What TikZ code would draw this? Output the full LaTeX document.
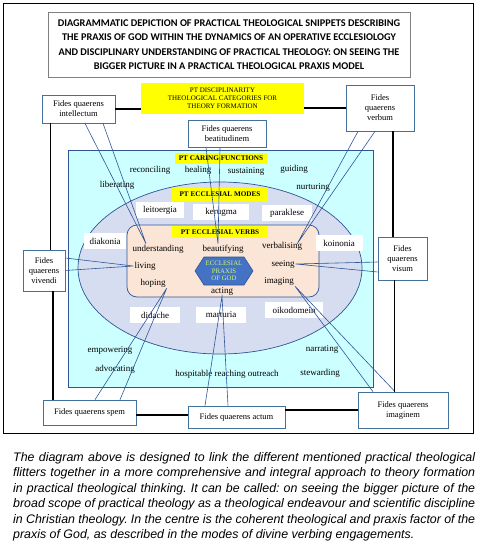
\documentclass[tikz,border=0pt]{standalone}
\usepackage{fontspec}
\setmainfont{Liberation Serif}
\newfontfamily\titlefont{Carlito}
\newfontfamily\notefont{Liberation Sans}
\usetikzlibrary{positioning,calc}
\definecolor{FrameBlue}{RGB}{65,113,156}
\definecolor{PtrBlue}  {RGB}{47,85,151}
\definecolor{SkyCyan}  {RGB}{204,255,255}
\definecolor{Lavender} {RGB}{214,221,240}
\definecolor{Peach}    {RGB}{251,229,214}
\definecolor{TagYellow}{RGB}{255,255,0}
\definecolor{HexBlue}  {RGB}{68,114,196}
\definecolor{HexText}  {RGB}{204,255,102}
\newcommand{\wordsize}{\fontsize{9}{10.5}\selectfont}

\begin{document}
\begin{tikzpicture}[x=1pt, y=-1pt,
  fides/.style={rectangle, draw=FrameBlue, fill=white, line width=0.7pt,
                align=center, inner sep=1pt, font=\fontsize{8.5}{10}\selectfont},
  tag/.style  ={rectangle, fill=TagYellow, inner sep=0pt, align=center,
                font=\fontsize{7.2}{8}\selectfont\bfseries},
  mode/.style ={rectangle, fill=white, inner sep=0pt, minimum height=16pt,
                font=\wordsize},
  word/.style ={inner sep=1pt, font=\wordsize},
  ptr/.style  ={draw=PtrBlue, line width=0.6pt},
  link/.style ={line width=1.8pt, black}
]
\useasboundingbox (0,0) rectangle (480,546);

% outer frame and heading
\draw[line width=1pt] (3,3) rectangle (473,433);
\node[draw=gray, line width=0.8pt, minimum width=362pt, minimum height=65pt,
      align=center, font=\titlefont\bfseries\fontsize{10.3}{14.4}\selectfont] (title) at (229,44.5)
  {DIAGRAMMATIC DEPICTION OF PRACTICAL THEOLOGICAL SNIPPETS DESCRIBING\\
   THE PRAXIS OF GOD WITHIN THE DYNAMICS OF AN OPERATIVE ECCLESIOLOGY\\
   AND DISCIPLINARY UNDERSTANDING OF PRACTICAL THEOLOGY: ON SEEING THE\\
   BIGGER PICTURE IN A PRACTICAL THEOLOGICAL PRAXIS MODEL};

% nested fields
\filldraw[fill=SkyCyan, draw=PtrBlue, line width=0.6pt] (68,150) rectangle (373,387);
\filldraw[fill=Lavender, draw=PtrBlue, line width=0.7pt] (220,268) ellipse [x radius=142, y radius=86];
\filldraw[fill=Peach, draw=PtrBlue, line width=0.7pt, rounded corners=10pt] (127,225) rectangle (319,297);

\node[tag, fill=TagYellow, minimum width=163pt, minimum height=31pt,
      font=\fontsize{7}{8}\selectfont] (disc) at (222.5,98.5)
  {PT DISCIPLINARITY\\THEOLOGICAL CATEGORIES FOR\\THEORY FORMATION};
\node[tag, minimum width=92pt, minimum height=11pt] (caring) at (221,158.5) {PT CARING FUNCTIONS};
\node[tag, minimum width=96pt, minimum height=13pt] (modes)  at (220,194.5) {PT ECCLESIAL MODES};
\node[tag, minimum width=96pt, minimum height=12pt] (verbs)  at (220,232)   {PT ECCLESIAL VERBS};

% ecclesial modes
\foreach \m/\x/\y/\w in {leitoergia/160/210/48, kerugma/221/212/56, paraklese/287/213/50,
                         diakonia/105/241/42, koinonia/339/243/47, didache/155/315/50,
                         marturia/221/315/50, oikodomein/294/310/58}
  \node[mode, minimum width=\w pt] (\m) at (\x,\y) {\m};

% caring functions
\foreach \w/\x/\y in {reconciling/150/170, healing/198/170, sustaining/246/171,
                      guiding/294/169, nurturing/313/187, liberating/117/185,
                      empowering/110/350, advocating/115/369, narrating/322/349,
                      stewarding/320/373}
  \node[word] (\w) at (\x,\y) {\w};
\node[word] (outreach) at (227,374) {hospitable reaching outreach};

% ecclesial verbs
\foreach \v/\x/\y in {understanding/158/249, beautifying/223/249, verbalising/282/246,
                      living/145/266, seeing/283/264, hoping/153/283,
                      imaging/279/281, acting/222/291}
  \node[word] (\v) at (\x,\y) {\v};

\filldraw[fill=HexBlue, draw=PtrBlue, line width=0.6pt]
  (195,271) -- (204,257) -- (244,257) -- (253,271) -- (244,285) -- (204,285) -- cycle;
\node[align=center, inner sep=0pt, text=HexText, font=\fontsize{6.8}{7.6}\selectfont] (praxis) at (224,271)
  {ECCLESIAL\\PRAXIS\\OF GOD};

% fides boxes
\node[fides, minimum width=73pt, minimum height=28pt] (intellectum)  at (78.5,109)  {Fides quaerens\\intellectum};
\node[fides, minimum width=68pt, minimum height=46pt] (verbum)       at (380,108)   {Fides\\quaerens\\verbum};
\node[fides, minimum width=78pt, minimum height=27pt] (beatitudinem) at (227,133.5) {Fides quaerens\\beatitudinem};
\node[fides, minimum width=42pt, minimum height=41pt] (vivendi)      at (44,270.5)  {Fides\\quaerens\\vivendi};
\node[fides, minimum width=49pt, minimum height=43pt] (visum)        at (402.5,258.5) {Fides\\quaerens\\visum};
\node[fides, minimum width=93pt, minimum height=25pt] (spem)         at (89.5,412.5) {Fides quaerens spem};
\node[fides, minimum width=97pt, minimum height=22pt] (actum)        at (236.5,417) {Fides quaerens actum};
\node[fides, minimum width=90pt, minimum height=36pt] (imaginem)     at (403,410)   {Fides quaerens\\imaginem};

% callout pointers
\draw[ptr] ([xshift=6.5pt]intellectum.south) -- ([xshift=-12pt]understanding.north) -- ([xshift=24.5pt]intellectum.south);
\draw[ptr] ([xshift=-22pt]verbum.south) -- ([xshift=-6pt,yshift=-3pt]verbalising.north east) -- ([xshift=-5pt]verbum.south);
\draw[ptr] ([xshift=-21pt]beatitudinem.south) -- ([xshift=-5pt]beautifying.north) -- ([xshift=-7pt]beatitudinem.south);
\draw[ptr] ([yshift=12.5pt]vivendi.east) -- (living.west) -- (vivendi.east);
\draw[ptr] ([yshift=-3.5pt]visum.west) -- (seeing.east) -- ([yshift=-13.5pt]visum.west);
\draw[ptr] ([xshift=5.5pt]spem.north) -- (hoping.south east) -- ([xshift=30.5pt]spem.north);
\draw[ptr] ([xshift=-31.5pt]actum.north) -- (acting.south) -- ([xshift=-8.5pt]actum.north);
\draw[ptr] ([xshift=-30pt]imaginem.north) -- (imaging.south east) -- ([xshift=-8pt]imaginem.north);

% black frame links
\draw[link] (intellectum.east) -- (intellectum.east -| disc.west);
\draw[link] (verbum.west -| disc.east) -- (verbum.west);
\draw[link] ([xshift=13pt]verbum.south) -- ([xshift=13pt]verbum.south |- visum.north);
\draw[link] ([xshift=-8pt]visum.south) -- ([xshift=-8pt]visum.south |- imaginem.north);
\draw[link] ([xshift=-28pt]intellectum.south) -- ([xshift=-28pt]intellectum.south |- vivendi.north);
\draw[link] ([xshift=9pt]vivendi.south) -- ([xshift=9pt]vivendi.south |- spem.north);
\draw[link] ([yshift=-2.5pt]spem.east) -- ([yshift=-2.5pt]spem.east -| actum.west);
\draw[link] (imaginem.west -| actum.east) -- (imaginem.west);

% caption
\node[anchor=north west, text width=462pt, align=justify, inner sep=0pt,
      font=\notefont\itshape\fontsize{12.4}{15.5}\selectfont\frenchspacing] (note) at (13,452)
  {The diagram above is designed to link the different mentioned practical theological\linebreak
   flitters together in a more comprehensive and integral approach to theory formation\linebreak
   in practical theological thinking. It can be called: on seeing the bigger picture of the\linebreak
   broad scope of practical theology as a theological endeavour and scientific discipline\linebreak
   in Christian theology. In the centre is the coherent theological and praxis factor of the\linebreak
   praxis of God, as described in the modes of divine verbing engagements.};
\end{tikzpicture}
\end{document}
